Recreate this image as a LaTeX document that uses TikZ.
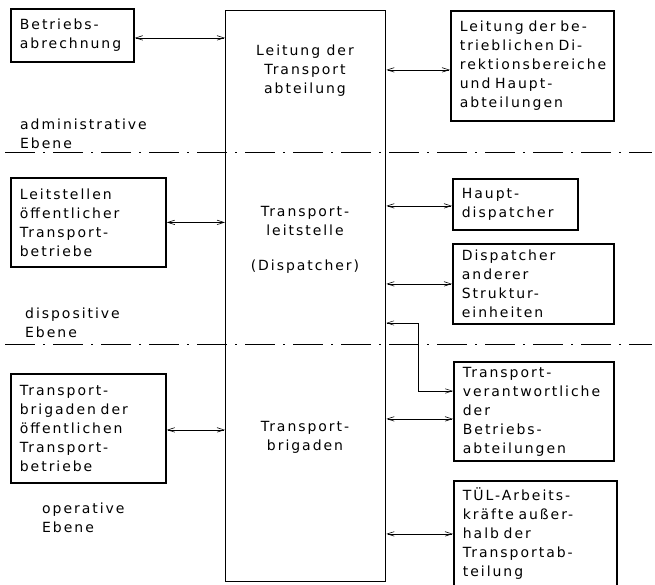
\documentclass[tikz,border=0pt]{standalone}
\usepackage{fontspec}
\setmainfont{DejaVu Sans}[LetterSpace=14]
\usetikzlibrary{arrows.meta,calc}
\begin{document}
\begin{tikzpicture}[x=1pt,y=-1pt,
  every node/.style={font=\fontsize{14}{19}\selectfont, inner sep=0pt},
  box/.style={draw, line width=1.8pt, anchor=north west, align=left, inner xsep=9pt, inner ysep=0pt},
  hub/.style={draw, line width=1.3pt, anchor=north west},
  biarrow/.style={line width=0.6pt, {Straight Barb[length=7pt,width=4.5pt]}-{Straight Barb[length=7pt,width=4.5pt]}},
  level/.style={anchor=west, align=left},
  divider/.style={line width=0.8pt, dash pattern=on 30pt off 8pt on 2pt off 8pt}]
\useasboundingbox (0,0) rectangle (655,584);

% central column
\node[hub, minimum width=160pt, minimum height=571pt] (main) at (225,10) {};
\node[align=center] (t1) at (305,71) {Leitung der\\Transport\\abteilung};
\node[align=center] (t2) at (305,221) {Transport-\\leitstelle};
\node (t3) at (305,267) {(Dispatcher)};
\node[align=center] (t4) at (305,437) {Transport-\\brigaden};

% partner units
\node[box, text width=105pt, minimum height=53pt] (ba) at (10,8) {Betriebs-\\abrechnung};
\node[box, text width=145pt, minimum height=110pt] (ld) at (450,10) {Leitung der be-\\trieblichen Di-\\rektionsbereiche\\und Haupt-\\abteilungen};
\node[box, text width=137pt, minimum height=89pt] (ls) at (10,177) {Leitstellen\\öffentlicher\\Transport-\\betriebe};
\node[box, text width=107pt, minimum height=51pt] (hd) at (452,178) {Haupt-\\dispatcher};
\node[box, text width=143pt, minimum height=80pt] (da) at (452,243) {Dispatcher\\anderer\\Struktur-\\einheiten};
\node[box, text width=137pt, minimum height=109pt] (tb) at (10,373) {Transport-\\brigaden der\\öffentlichen\\Transport-\\betriebe};
\node[box, text width=142pt, minimum height=99pt] (tv) at (453,361) {Transport-\\verantwortliche\\der\\Betriebs-\\abteilungen};
\node[box, text width=145pt, minimum height=106pt] (tul) at (453,480) {TÜL-Arbeits-\\kräfte außer-\\halb der\\Transportab-\\teilung};

% level names
\node[level] (lv1) at (20,134) {administrative\\Ebene};
\node[level] (lv2) at (25,323) {dispositive\\Ebene};
\node[level] (lv3) at (42,518) {operative\\Ebene};

% level dividers
\coordinate (d1a) at (5,152);
\coordinate (d1b) at (652,152);
\coordinate (d2a) at (5,344);
\coordinate (d2b) at (652,344);
\draw[divider] (d1a) -- (d1b);
\draw[divider] (d2a) -- (d2b);

% connector end points
\coordinate (a1) at ($(ba.east)+(0,2.5)$);
\coordinate (a2) at ($(ld.west)+(0,4)$);
\coordinate (a4) at ($(hd.west)+(0,1.5)$);
\coordinate (a6) at ($(tb.east)+(0,1.5)$);
\coordinate (a7) at ($(tv.west)+(0,7.5)$);
\coordinate (k1) at (418,323);
\coordinate (k2) at (418,391);

\draw[biarrow] (a1) -- (a1 -| main.west);
\draw[biarrow] (a2 -| main.east) -- (a2);
\draw[biarrow] (ls.east) -- (ls.east -| main.west);
\draw[biarrow] (a4 -| main.east) -- (a4);
\draw[biarrow] (da.west -| main.east) -- (da.west);
\draw[biarrow] (a6) -- (a6 -| main.west);
\draw[biarrow] (a7 -| main.east) -- (a7);
\draw[biarrow] (tul.west -| main.east) -- (tul.west);
\draw[biarrow, line width=0.5pt] (k1 -| main.east) -- (k1) -- (k2) -- (k2 -| tv.west);
\end{tikzpicture}
\end{document}
